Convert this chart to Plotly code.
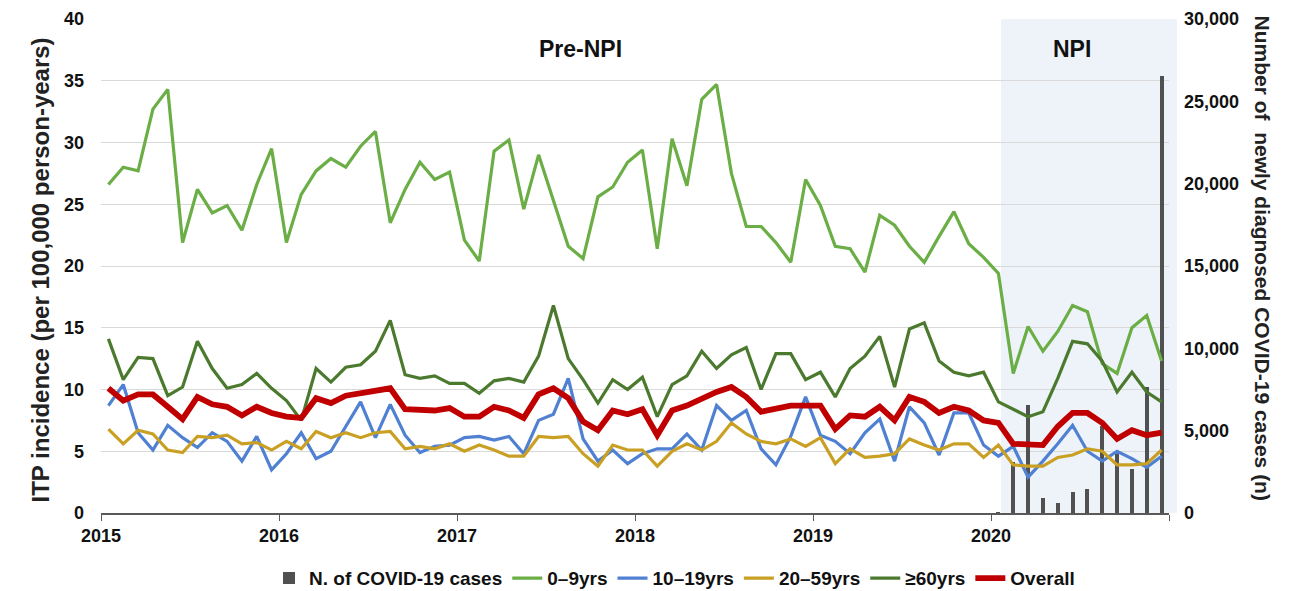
import plotly.graph_objects as go

years = ["2015", "2016", "2017", "2018", "2019", "2020"]
months = list(range(72))  # Jan 2015 .. Dec 2020

age_0_9 = [26.6, 28.0, 27.7, 32.7, 34.3, 21.9, 26.2, 24.3, 24.9, 22.9, 26.6, 29.5,
           21.9, 25.8, 27.7, 28.7, 28.0, 29.7, 30.9, 23.5, 26.2, 28.4, 27.0, 27.6,
           22.1, 20.4, 29.3, 30.2, 24.6, 29.0, 25.3, 21.6, 20.6, 25.6, 26.4, 28.4,
           29.4, 21.4, 30.3, 26.5, 33.5, 34.7, 27.5, 23.2, 23.2, 21.9, 20.3, 27.0,
           24.9, 21.6, 21.4, 19.5, 24.1, 23.3, 21.6, 20.3, 22.4, 24.4, 21.8, 20.7,
           19.4, 11.3, 15.1, 13.1, 14.7, 16.8, 16.3, 12.1, 11.3, 15.0, 16.0, 12.3]
age_10_19 = [8.7, 10.4, 6.5, 5.1, 7.1, 6.1, 5.3, 6.5, 5.8, 4.2, 6.2, 3.5,
             4.8, 6.5, 4.4, 5.0, 7.0, 9.0, 6.1, 8.8, 6.3, 4.9, 5.4, 5.5,
             6.1, 6.2, 5.9, 6.2, 4.8, 7.5, 8.0, 10.9, 6.0, 4.2, 5.1, 4.0,
             4.8, 5.2, 5.2, 6.4, 5.1, 8.7, 7.5, 8.3, 5.2, 3.9, 6.2, 9.4,
             6.3, 5.8, 4.8, 6.5, 7.6, 4.2, 8.6, 7.3, 4.7, 8.1, 8.1, 5.5,
             4.6, 5.4, 2.9, 4.2, 5.6, 7.1, 5.0, 4.2, 5.0, 4.4, 3.7, 4.6]
age_20_59 = [6.8, 5.6, 6.7, 6.4, 5.1, 4.9, 6.2, 6.1, 6.3, 5.6, 5.7, 5.1,
             5.8, 5.2, 6.6, 6.1, 6.5, 6.1, 6.5, 6.6, 5.2, 5.4, 5.2, 5.6,
             5.0, 5.5, 5.1, 4.6, 4.6, 6.2, 6.1, 6.2, 4.8, 3.8, 5.5, 5.1,
             5.1, 3.8, 5.0, 5.6, 5.1, 5.8, 7.3, 6.4, 5.8, 5.6, 6.0, 5.4,
             6.1, 4.0, 5.2, 4.5, 4.6, 4.8, 6.0, 5.5, 5.1, 5.6, 5.6, 4.5,
             5.5, 3.9, 3.8, 3.8, 4.5, 4.7, 5.2, 5.0, 3.9, 3.9, 4.0, 5.1]
age_60_plus = [14.1, 10.8, 12.6, 12.5, 9.5, 10.2, 13.9, 11.7, 10.1, 10.4, 11.3, 10.1,
               9.1, 7.5, 11.7, 10.6, 11.8, 12.0, 13.1, 15.6, 11.2, 10.9, 11.1, 10.5,
               10.5, 9.7, 10.7, 10.9, 10.6, 12.7, 16.8, 12.5, 10.8, 8.9, 10.8, 10.0,
               11.0, 7.8, 10.4, 11.1, 13.1, 11.7, 12.8, 13.4, 10.0, 12.9, 12.9, 10.8,
               11.4, 9.4, 11.7, 12.7, 14.3, 10.2, 14.9, 15.4, 12.3, 11.4, 11.1, 11.4,
               9.0, 8.4, 7.8, 8.2, 10.9, 13.9, 13.7, 12.3, 9.8, 11.4, 9.8, 9.0]
overall = [10.1, 9.1, 9.6, 9.6, 8.6, 7.6, 9.4, 8.8, 8.6, 7.9, 8.6, 8.1,
           7.8, 7.7, 9.3, 8.9, 9.5, 9.7, 10.0, 10.1, 8.4, 8.4, 8.3, 8.5,
           7.8, 7.8, 8.6, 8.3, 7.7, 9.6, 10.1, 9.3, 7.4, 6.7, 8.3, 8.0,
           8.4, 6.3, 8.3, 8.7, 9.3, 9.8, 10.2, 9.4, 8.2, 8.4, 8.7, 8.7,
           8.7, 6.8, 7.9, 7.8, 8.6, 7.5, 9.4, 9.0, 8.1, 8.6, 8.3, 7.5,
           7.3, 5.6, 5.5, 5.5, 7.0, 8.1, 8.1, 7.3, 6.0, 6.7, 6.3, 6.5]

covid_months = list(range(60, 72))  # Jan-Dec 2020
covid_cases = [11, 3080, 6560, 930, 630, 1260, 1460, 5300, 3790, 2650, 7630, 26540]

FONT = "Liberation Sans, Arial, sans-serif"
x_mid = [m + 0.5 for m in months]
x_cov = [m + 0.5 for m in covid_months]

fig = go.Figure()
fig.add_trace(go.Bar(x=x_cov, y=covid_cases, name="<b>N. of COVID-19 cases</b>",
                     marker=dict(color="#505050", line=dict(width=0)),
                     width=0.28, yaxis="y"))
series = [
    ("0\u20139yrs", age_0_9, "#6aae45", 3.2),
    ("10\u201319yrs", age_10_19, "#4f80d2", 3.2),
    ("20\u201359yrs", age_20_59, "#c9a024", 3.2),
    ("\u226560yrs", age_60_plus, "#4b7a2f", 3.2),
    ("Overall", overall, "#c00000", 5.8),
]
for name, vals, col, w in series:
    fig.add_trace(go.Scatter(x=x_mid, y=vals, name="<b>%s</b>" % name, mode="lines",
                             line=dict(color=col, width=w), yaxis="y2"))

tick_font = dict(family=FONT, size=18, color="#111111")

fig.update_layout(
    width=1293, height=591,
    margin=dict(l=101, r=124, t=19, b=78, autoexpand=False),
    paper_bgcolor="white", plot_bgcolor="rgba(0,0,0,0)",
    font=dict(family=FONT, size=18, color="#111111"),
    bargap=0,
    xaxis=dict(range=[0, 72], tickvals=[0, 12, 24, 36, 48, 60, 72],
               ticktext=["<b>%s</b>" % y for y in years] + [""],
               ticks="outside", ticklen=6, tickcolor="#595959", tickwidth=1.2,
               showline=True, linecolor="#595959", linewidth=1.5, automargin=False,
               showgrid=False, zeroline=False, tickfont=tick_font),
    yaxis=dict(side="right", range=[0, 30000], tickvals=list(range(0, 30001, 5000)),
               ticktext=["<b>%s</b>" % f"{v:,}" for v in range(0, 30001, 5000)],
               showgrid=False, zeroline=False, showline=False, automargin=False,
               tickfont=tick_font, ticklabelstandoff=14),
    yaxis2=dict(overlaying="y", side="left", range=[0, 40],
                tickvals=list(range(0, 41, 5)),
                ticktext=["<b>%d</b>" % v for v in range(0, 41, 5)],
                showgrid=True, gridcolor="#d9d9d9", gridwidth=1,
                zeroline=False, showline=False, automargin=False,
                tickfont=tick_font, ticklabelstandoff=16),
    legend=dict(orientation="h", x=0.537, xanchor="center", y=-0.132, yanchor="middle",
                font=dict(family=FONT, size=19, color="#111111"),
                itemwidth=30, tracegroupgap=0, bgcolor="rgba(0,0,0,0)"),
    shapes=[dict(type="rect", xref="paper", yref="paper",
                 x0=(1001 - 101) / 1068, x1=(1177 - 101) / 1068, y0=0, y1=1,
                 fillcolor="#eef3f9", line=dict(width=0), layer="below")],
    annotations=[
        dict(text="<b>Pre-NPI</b>", xref="paper", yref="paper",
             x=(580 - 101) / 1068, y=(513 - 34) / 494, showarrow=False,
             font=dict(family=FONT, size=23, color="#111111")),
        dict(text="<b>NPI</b>", xref="paper", yref="paper",
             x=(1093 - 101) / 1068, y=(513 - 34) / 494, showarrow=False,
             font=dict(family=FONT, size=23, color="#111111")),
        dict(text="<b>ITP incidence (per 100,000 person-years)</b>", xref="paper", yref="paper",
             x=(24 - 101) / 1068, y=(513 - 270) / 494, showarrow=False, textangle=-90,
             font=dict(family=FONT, size=24, color="#222222")),
        dict(text="<b>Number of  newly diagnosed COVID-19 cases (n)</b>", xref="paper", yref="paper",
             x=(1276 - 101) / 1068, y=(513 - 258) / 494, showarrow=False, textangle=90,
             font=dict(family=FONT, size=21, color="#222222")),
    ],
)

fig.write_html("out.html", config={"displayModeBar": False},
               post_script="document.body.style.margin='0px';document.body.style.overflow='hidden';")
